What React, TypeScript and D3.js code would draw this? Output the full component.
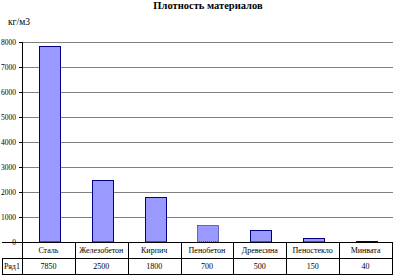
import React from "react";
import * as d3 from "d3";

const categories = ["Сталь", "Железобетон", "Кирпич", "Пенобетон", "Древесина", "Пеностекло", "Минвата"];
const values = [7850, 2500, 1800, 700, 500, 150, 40];
const yTicks = [0, 1000, 2000, 3000, 4000, 5000, 6000, 7000, 8000];
const seriesName = "Ряд1";
const title = "Плотность материалов";
const unit = "кг/м3";

export default function App() {
  const W = 395, H = 279;
  const left = 22, right = 392, top = 42, bottom = 242;
  const rowH = 16;
  const x = d3.scaleBand<string>().domain(categories).range([left, right]).paddingInner(0).paddingOuter(0);
  const y = d3.scaleLinear().domain([0, 8000]).range([bottom, top]);
  const bw = 21;
  const font = "'Liberation Serif', 'Times New Roman', serif";
  return (
    <svg width={W} height={H} style={{ position: "absolute", left: 0, top: 0, background: "#fff" }} fontFamily={font}>
      <text x={208} y={9} textAnchor="middle" fontSize={10.5} fontWeight="bold">{title}</text>
      <text x={8} y={25} fontSize={9.5}>{unit}</text>
      {yTicks.filter(t => t > 0).map(t => (
        <line key={"g" + t} x1={left} x2={right + 1} y1={Math.round(y(t)) + 0.5} y2={Math.round(y(t)) + 0.5} stroke="#808080" strokeWidth={1} />
      ))}
      {yTicks.map(t => (
        <g key={"t" + t}>
          <line x1={left - 3} x2={left} y1={Math.round(y(t)) + 0.5} y2={Math.round(y(t)) + 0.5} stroke="#000" />
          <text x={16} y={y(t) + 2.5} textAnchor="end" fontSize={7.5}>{t}</text>
        </g>
      ))}
      {categories.map((c, i) => {
        const cx = (x(c) as number) + x.bandwidth() / 2 + 1;
        const y0 = Math.round(y(values[i]));
        return (
          <rect key={c} x={Math.round(cx - bw / 2) + 0.5} y={y0 + 0.5} width={bw} height={Math.max(bottom - y0 - 0.5, 0.5)}
            fill="#9999FF" stroke="#000080" strokeWidth={1} strokeDasharray={i === 3 ? "1,1" : undefined} />
        );
      })}
      <line x1={left + 0.5} x2={left + 0.5} y1={top} y2={bottom + 2 * rowH} stroke="#000" />
      <line x1={2} x2={right} y1={bottom + 0.5} y2={bottom + 0.5} stroke="#000" />
      <line x1={2} x2={right} y1={bottom + rowH + 0.5} y2={bottom + rowH + 0.5} stroke="#000" />
      <line x1={2} x2={right} y1={bottom + 2 * rowH + 0.5} y2={bottom + 2 * rowH + 0.5} stroke="#000" />
      <line x1={2.5} x2={2.5} y1={bottom + rowH} y2={bottom + 2 * rowH + 1} stroke="#000" />
      {categories.map((c, i) => {
        const x1 = Math.round((x(c) as number) + x.bandwidth()) + 0.5;
        return <line key={"d" + c} x1={x1} x2={x1} y1={bottom} y2={bottom + 2 * rowH + 1} stroke="#000" />;
      })}
      {categories.map((c, i) => {
        const cx = (x(c) as number) + x.bandwidth() / 2;
        return (
          <g key={"l" + c}>
            <text x={cx} y={bottom + 11} textAnchor="middle" fontSize={8}>{c}</text>
            <text x={cx} y={bottom + rowH + 11} textAnchor="middle" fontSize={8}>{values[i]}</text>
          </g>
        );
      })}
      <text x={4} y={bottom + rowH + 11} fontSize={8}>{seriesName}</text>
    </svg>
  );
}
